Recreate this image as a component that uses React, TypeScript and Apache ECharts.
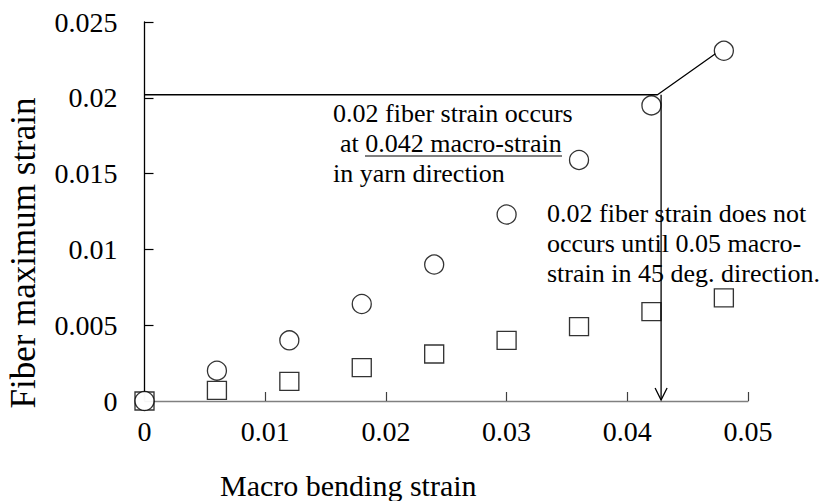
import React, { useEffect, useRef } from "react";
import * as echarts from "echarts";

// Macro bending strain (x) sampled every 0.006
const macroStrain = [0, 0.006, 0.012, 0.018, 0.024, 0.03, 0.036, 0.042, 0.048];
// Fiber maximum strain, yarn direction (circles)
const yarnDirection = [0, 0.002, 0.004, 0.0064, 0.009, 0.0123, 0.0159, 0.0195, 0.0231];
// Fiber maximum strain, 45 deg. direction (squares)
const diagDirection = [0, 0.0007, 0.0013, 0.0022, 0.0031, 0.004, 0.0049, 0.0059, 0.0068];

// Guide line: 0.02 fiber strain level, reaching the yarn curve, then on to the last point
const thresholdGuide: [number, number][] = [
  [0, 0.0202],
  [0.0425, 0.0202],
  [0.0473, 0.0229],
];
// Down arrow from the 0.02 level to the macro-strain axis
const arrowGuide = { x: 0.0428, from: 0.0202, to: 0 };

const xTicks = { min: 0, max: 0.05, interval: 0.01 };
const yTicks = { min: 0, max: 0.025, interval: 0.005 };

const FONT = "Liberation Serif";
const TICK_FONT = "serif";
const NOTE_FONT = "Times New Roman";

export default function App() {
  const ref = useRef<HTMLDivElement>(null);

  useEffect(() => {
    if (!ref.current) return;
    const chart = echarts.init(ref.current, undefined, { renderer: "svg" });

    const fmt = (v: number) => String(parseFloat(v.toFixed(4)));

    const markerStyle = {
      color: "#ffffff",
      borderColor: "#000000",
      borderWidth: 1.3,
    };

    const textStyle = (text: string) => ({
      text,
      fontFamily: NOTE_FONT,
      fontSize: 26,
      fill: "#000",
      verticalAlign: "top",
      align: "left",
    });

    chart.setOption({
      animation: false,
      backgroundColor: "#ffffff",
      textStyle: { fontFamily: FONT },
      grid: { left: 144.5, right: 73, top: 22, bottom: 100 },
      xAxis: {
        type: "value",
        ...xTicks,
        axisLine: { show: true, lineStyle: { color: "#808080", width: 1.3 } },
        axisTick: { show: true, inside: true, length: 9, lineStyle: { color: "#404040", width: 1.2 } },
        axisLabel: {
          color: "#000",
          fontFamily: TICK_FONT,
          fontSize: 28,
          margin: 16,
          formatter: fmt,
        },
        splitLine: { show: false },
      },
      yAxis: {
        type: "value",
        ...yTicks,
        axisLine: { show: true, lineStyle: { color: "#000", width: 1.3 } },
        axisTick: { show: true, inside: true, length: 9, lineStyle: { color: "#000", width: 1.2 } },
        axisLabel: {
          color: "#000",
          fontFamily: TICK_FONT,
          fontSize: 28,
          margin: 27,
          formatter: fmt,
        },
        splitLine: { show: false },
      },
      series: [
        {
          name: "45 deg. direction",
          type: "scatter",
          symbol: "rect",
          symbolSize: [19, 18],
          itemStyle: markerStyle,
          data: macroStrain.map((x, i) => [x, diagDirection[i]]),
          z: 3,
        },
        {
          name: "yarn direction",
          type: "scatter",
          symbol: "circle",
          symbolSize: 19,
          itemStyle: markerStyle,
          data: macroStrain.map((x, i) => [x, yarnDirection[i]]),
          z: 4,
        },
        {
          name: "0.02 level",
          type: "line",
          symbol: "none",
          lineStyle: { color: "#000", width: 1.3 },
          data: thresholdGuide,
          z: 5,
        },
        {
          name: "arrow",
          type: "custom",
          data: [[arrowGuide.x, arrowGuide.from, arrowGuide.to]],
          z: 5,
          renderItem: (_params: any, api: any) => {
            const top = api.coord([api.value(0), api.value(1)]);
            const tip = api.coord([api.value(0), api.value(2)]);
            const st = { stroke: "#000", lineWidth: 1.3, fill: "none" };
            return {
              type: "group",
              children: [
                {
                  type: "line",
                  shape: { x1: top[0], y1: top[1], x2: tip[0], y2: tip[1] - 1 },
                  style: st,
                },
                {
                  type: "polyline",
                  shape: {
                    points: [
                      [tip[0] - 6, tip[1] - 13],
                      [tip[0], tip[1] - 1],
                      [tip[0] + 6, tip[1] - 13],
                    ],
                  },
                  style: st,
                },
              ],
            };
          },
        },
      ],
      graphic: [
        { type: "text", x: 333, y: 100, style: textStyle("0.02 fiber strain occurs") },
        { type: "text", x: 340, y: 130, style: textStyle("at 0.042 macro-strain") },
        {
          type: "line",
          shape: { x1: 365, y1: 156, x2: 562, y2: 156 },
          style: { stroke: "#000", lineWidth: 1.2 },
        },
        { type: "text", x: 333, y: 160, style: textStyle("in yarn direction") },
        { type: "text", x: 547, y: 200, style: textStyle("0.02 fiber strain does not") },
        { type: "text", x: 547, y: 230, style: textStyle("occurs until 0.05 macro-") },
        { type: "text", x: 547, y: 260, style: textStyle("strain in 45 deg. direction.") },
        {
          type: "text",
          x: 220,
          y: 470,
          style: {
            text: "Macro bending strain",
            fontFamily: FONT,
            fontSize: 30,
            fill: "#000",
            align: "left",
            verticalAlign: "top",
          },
        },
        {
          type: "text",
          x: 23,
          y: 253,
          rotation: Math.PI / 2,
          style: {
            text: "Fiber maximum strain",
            fontFamily: FONT,
            fontSize: 35,
            fill: "#000",
            align: "center",
            verticalAlign: "middle",
          },
        },
      ],
    });

    return () => chart.dispose();
  }, []);

  return (
    <div
      ref={ref}
      style={{ position: "fixed", left: 0, top: 0, width: 821, height: 501, background: "#fff" }}
    />
  );
}
